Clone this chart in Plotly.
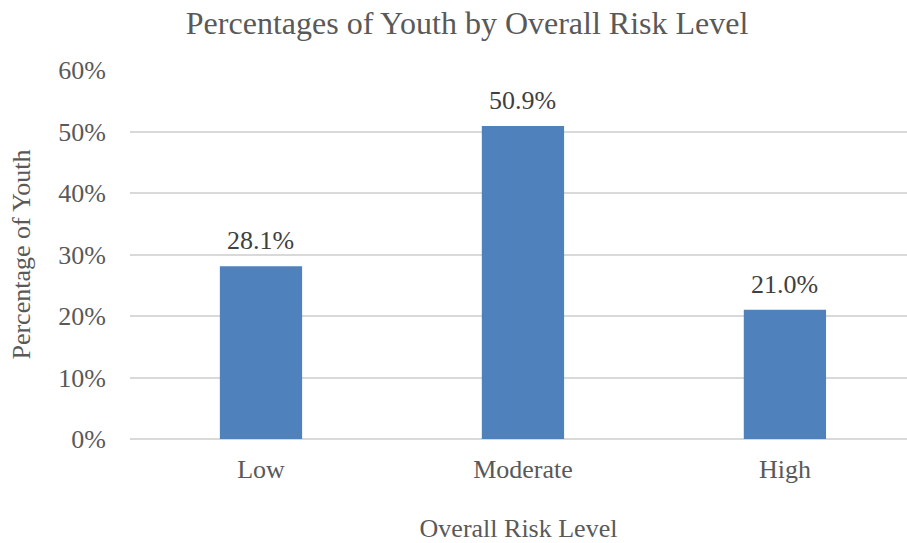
import plotly.graph_objects as go

categories = ["Low", "Moderate", "High"]
values = [28.1, 50.9, 21.0]
labels = ["28.1%", "50.9%", "21.0%"]
tick_vals = [0, 10, 20, 30, 40, 50, 60]
tick_text = ["0%", "10%", "20%", "30%", "40%", "50%", "60%"]

FONT = "Liberation Serif, Times New Roman, serif"

fig = go.Figure()
fig.add_trace(go.Bar(
    x=categories, y=values,
    marker=dict(color="#4f81bd", line=dict(width=0)),
    hoverinfo="skip",
))

for c, v, t in zip(categories, values, labels):
    fig.add_annotation(x=c, y=v, text=t, showarrow=False, yanchor="bottom",
                       yshift=9, font=dict(family=FONT, size=26, color="#404040"))

fig.update_layout(
    width=907, height=543,
    margin=dict(l=130, r=0, t=70, b=104),
    paper_bgcolor="white", plot_bgcolor="white",
    bargap=0.686,
    showlegend=False,
    font=dict(family=FONT, color="#595959"),
    title=dict(text="Percentages of Youth by Overall Risk Level", x=0.515, xanchor="center",
               y=0.958, yanchor="middle", font=dict(family=FONT, size=32, color="#595959")),
    xaxis=dict(range=[-0.5, 2.466], showgrid=False, showline=False, zeroline=False,
               ticks="outside", ticklen=7, tickcolor="rgba(0,0,0,0)",
               tickfont=dict(family=FONT, size=26, color="#595959"),
               title=dict(text="Overall Risk Level", standoff=36,
                          font=dict(family=FONT, size=26, color="#595959"))),
    yaxis=dict(range=[0, 60], tickvals=tick_vals, ticktext=tick_text,
               showgrid=True, gridcolor="#d9d9d9", gridwidth=1.5,
               zeroline=True, zerolinecolor="#d9d9d9", zerolinewidth=1.5,
               showline=False, ticks="outside", ticklen=18, tickcolor="rgba(0,0,0,0)",
               tickfont=dict(family=FONT, size=26, color="#595959"),
               title=dict(text="Percentage of Youth", standoff=20,
                          font=dict(family=FONT, size=26, color="#595959"))),
)

fig.write_html("out.html")
